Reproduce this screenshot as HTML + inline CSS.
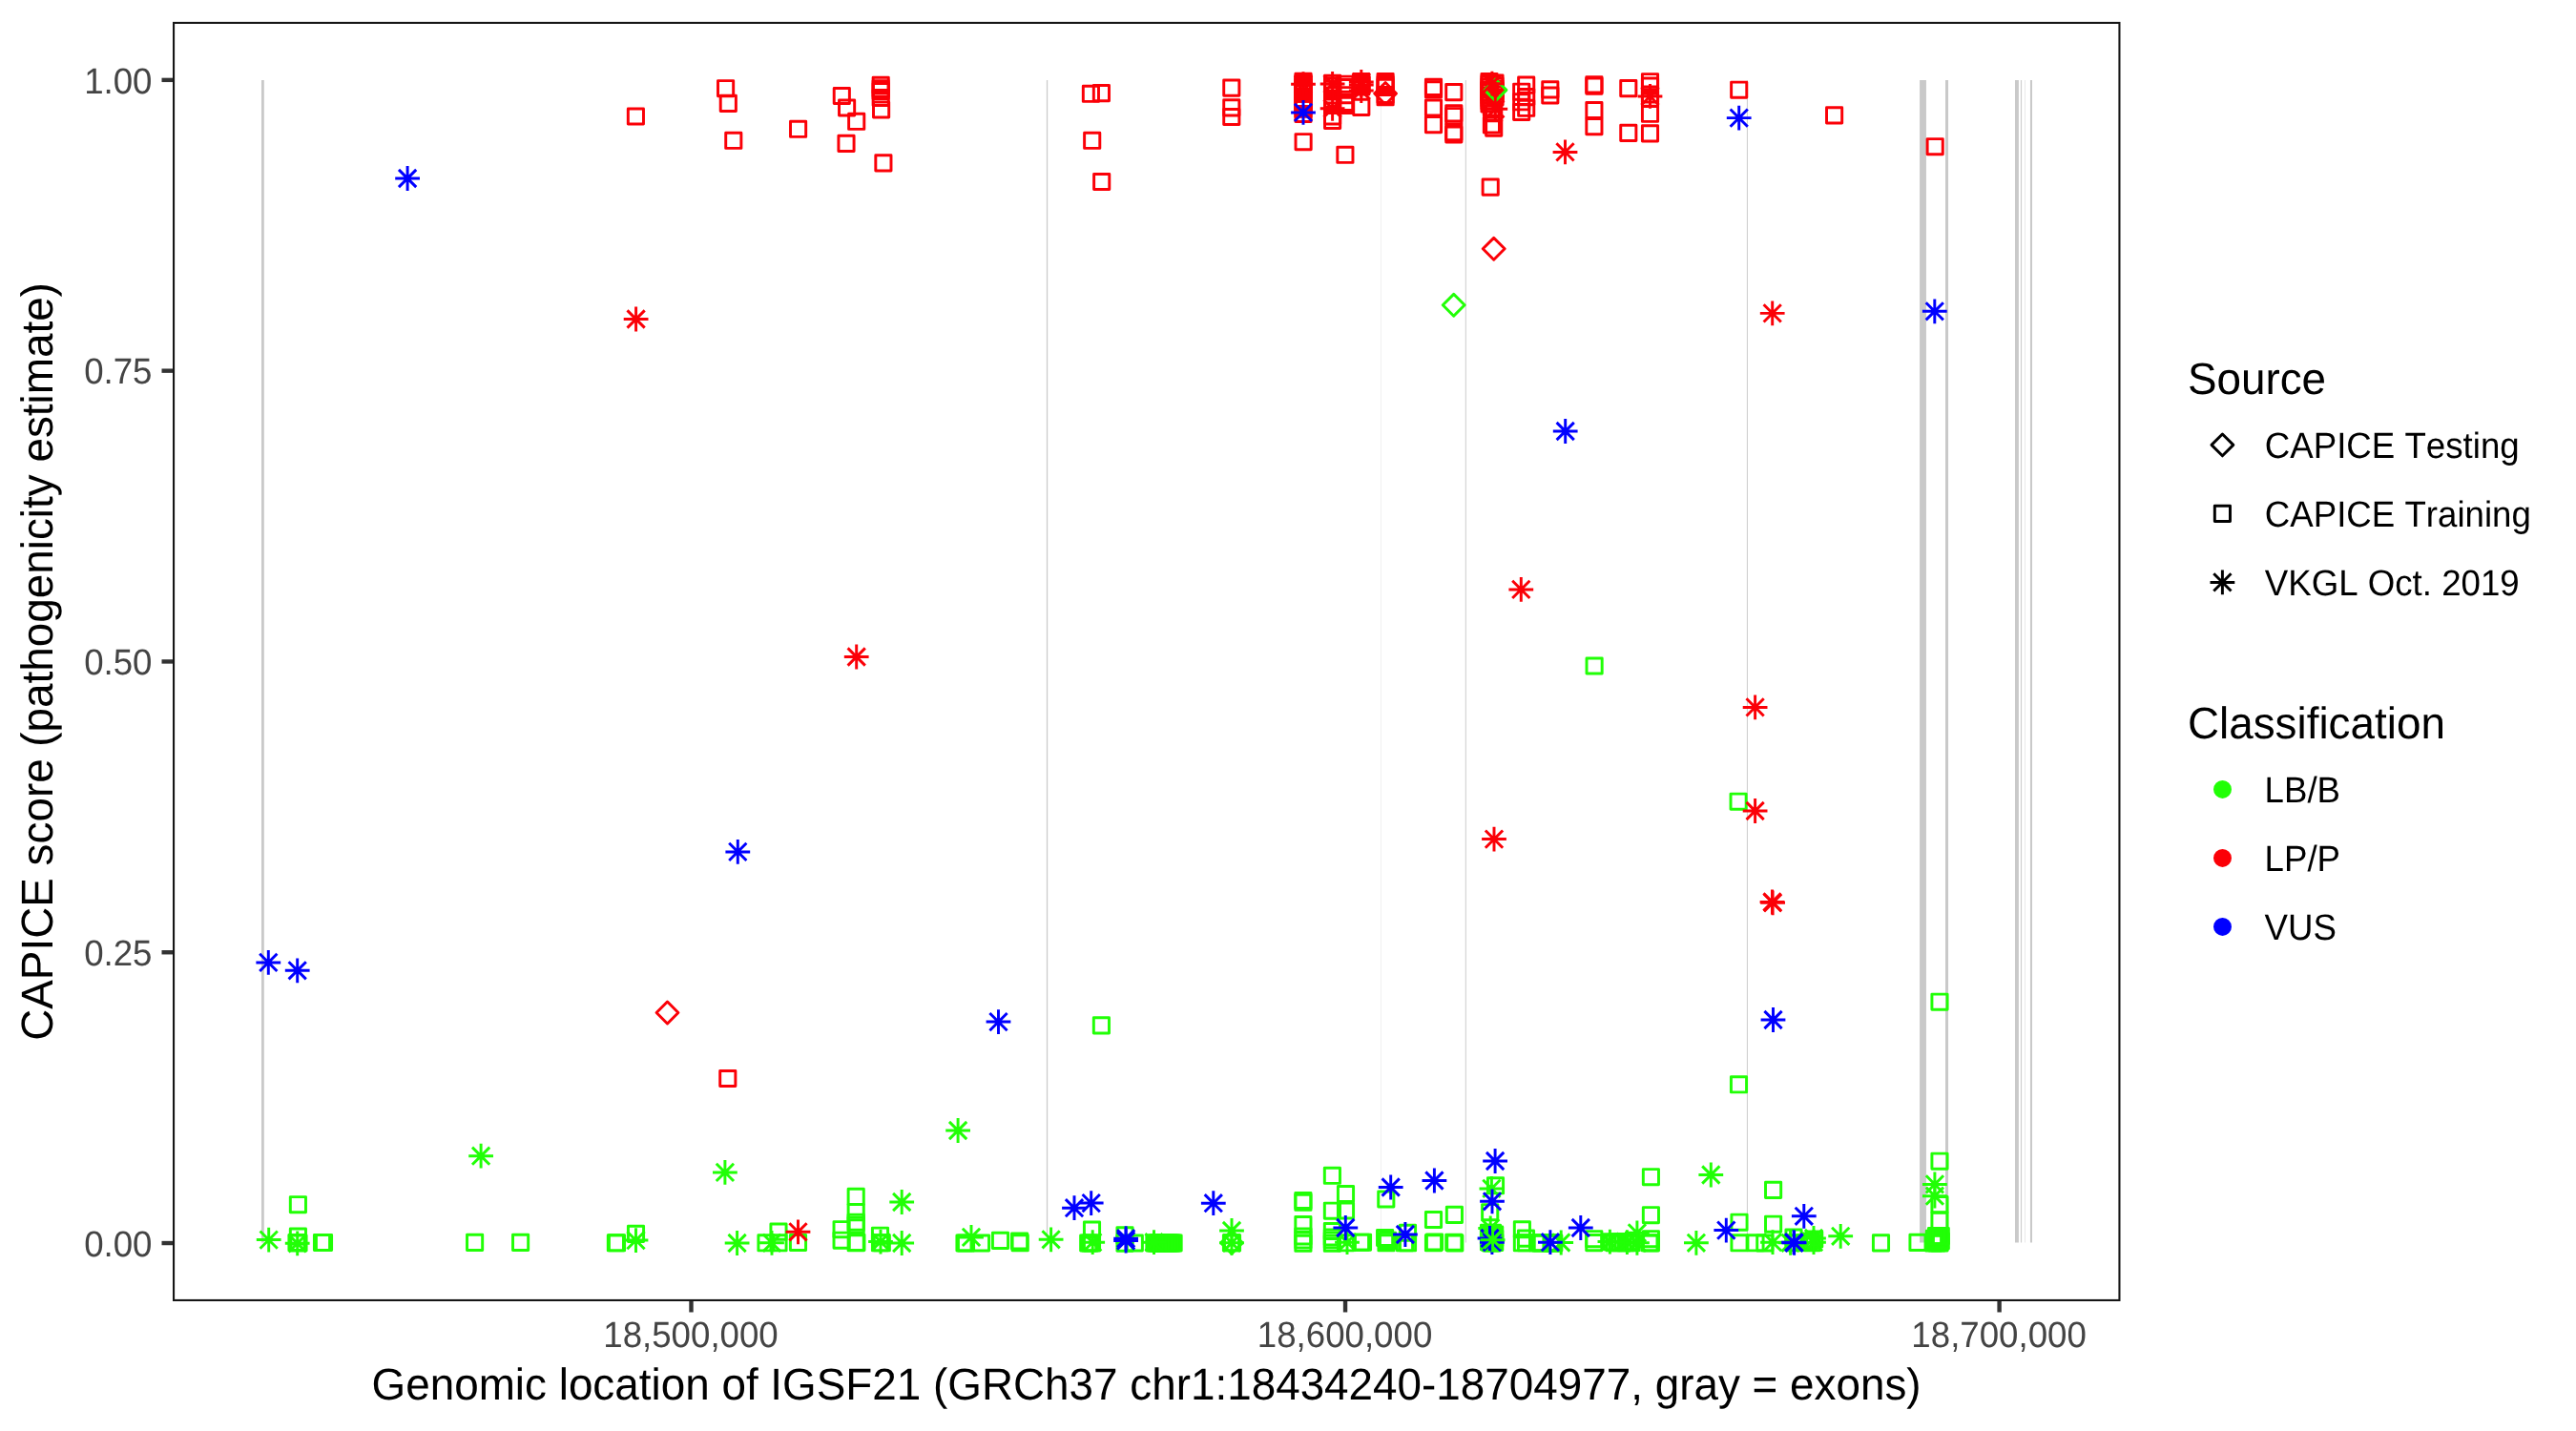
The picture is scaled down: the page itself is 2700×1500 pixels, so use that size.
<!DOCTYPE html>
<html><head><meta charset="utf-8"><title>CAPICE IGSF21</title>
<style>
html,body{margin:0;padding:0;background:#fff;}
body{width:2700px;height:1500px;overflow:hidden;}
svg{display:block;will-change:transform;}
text{font-family:"Liberation Sans",sans-serif;text-rendering:geometricPrecision;font-kerning:none;font-feature-settings:"kern" 0,"liga" 0;}
.t{font-size:36.67px;fill:#444;}
.l{font-size:36.67px;fill:#000;}
.h{font-size:45.83px;fill:#000;}
.p{fill:none;stroke-width:2.95;stroke-linejoin:round;stroke-linecap:butt;}
</style></head><body>
<svg width="2700" height="1500" viewBox="0 0 2700 1500">
<defs>
<path id="s" d="M-8.08-8.08H8.08V8.08H-8.08Z"/>
<path id="d" d="M-11.42 0L0-11.42L11.42 0L0 11.42Z"/>
<path id="a" d="M-9.11-9.11L9.11 9.11M-9.11 9.11L9.11-9.11M-12.89 0H12.89M0-12.89V12.89"/>
</defs>
<rect width="2700" height="1500" fill="#fff"/>

<g>
<rect x="274.00" y="84.0" width="2.80" height="1218.5" fill="#c9c9c9"/>
<rect x="1096.90" y="84.0" width="1.30" height="1218.5" fill="#cbcbcb"/>
<rect x="1447.20" y="84.0" width="0.60" height="1218.5" fill="#e6e6e6"/>
<rect x="1535.80" y="84.0" width="1.00" height="1218.5" fill="#cbcbcb"/>
<rect x="1830.90" y="84.0" width="1.00" height="1218.5" fill="#cbcbcb"/>
<rect x="2012.06" y="84.0" width="6.87" height="1218.5" fill="#c9c9c9"/>
<rect x="2039.00" y="84.0" width="3.05" height="1218.5" fill="#c9c9c9"/>
<rect x="2112.00" y="84.0" width="3.90" height="1218.5" fill="#c9c9c9"/>
<rect x="2117.90" y="84.0" width="1.20" height="1218.5" fill="#cfcfcf"/>
<rect x="2122.00" y="84.0" width="0.90" height="1218.5" fill="#e6e6e6"/>
<rect x="2127.95" y="84.0" width="2.05" height="1218.5" fill="#c9c9c9"/>
</g>
<g class="p">
<use href="#s" x="666.4" y="122.0" stroke="#fb0007"/>
<use href="#s" x="760.6" y="92.7" stroke="#fb0007"/>
<use href="#s" x="763.3" y="108.4" stroke="#fb0007"/>
<use href="#s" x="768.8" y="147.3" stroke="#fb0007"/>
<use href="#s" x="836.6" y="135.3" stroke="#fb0007"/>
<use href="#s" x="882.3" y="100.5" stroke="#fb0007"/>
<use href="#s" x="887.6" y="113.0" stroke="#fb0007"/>
<use href="#s" x="897.7" y="127.3" stroke="#fb0007"/>
<use href="#s" x="887.0" y="150.4" stroke="#fb0007"/>
<use href="#s" x="925.9" y="170.9" stroke="#fb0007"/>
<use href="#s" x="923.2" y="89.4" stroke="#fb0007"/>
<use href="#s" x="923.2" y="92.9" stroke="#fb0007"/>
<use href="#s" x="923.2" y="95.5" stroke="#fb0007"/>
<use href="#s" x="923.2" y="102.5" stroke="#fb0007"/>
<use href="#s" x="923.6" y="115.0" stroke="#fb0007"/>
<use href="#s" x="1143.4" y="98.3" stroke="#fb0007"/>
<use href="#s" x="1154.4" y="97.6" stroke="#fb0007"/>
<use href="#s" x="1144.7" y="147.3" stroke="#fb0007"/>
<use href="#s" x="1154.7" y="190.5" stroke="#fb0007"/>
<use href="#s" x="1290.8" y="92.1" stroke="#fb0007"/>
<use href="#s" x="1290.8" y="112.9" stroke="#fb0007"/>
<use href="#s" x="1290.8" y="122.5" stroke="#fb0007"/>
<use href="#s" x="1366.0" y="85.3" stroke="#fb0007"/>
<use href="#s" x="1366.0" y="87.0" stroke="#fb0007"/>
<use href="#s" x="1366.0" y="89.0" stroke="#fb0007"/>
<use href="#s" x="1366.0" y="91.0" stroke="#fb0007"/>
<use href="#s" x="1366.0" y="93.0" stroke="#fb0007"/>
<use href="#s" x="1366.0" y="95.0" stroke="#fb0007"/>
<use href="#s" x="1366.0" y="97.0" stroke="#fb0007"/>
<use href="#s" x="1366.0" y="98.2" stroke="#fb0007"/>
<use href="#s" x="1366.0" y="105.5" stroke="#fb0007"/>
<use href="#s" x="1366.0" y="108.5" stroke="#fb0007"/>
<use href="#s" x="1366.0" y="111.5" stroke="#fb0007"/>
<use href="#s" x="1366.0" y="114.3" stroke="#fb0007"/>
<use href="#s" x="1366.0" y="119.5" stroke="#fb0007"/>
<use href="#s" x="1366.1" y="148.7" stroke="#fb0007"/>
<use href="#a" x="1366.0" y="88.2" stroke="#fb0007"/>
<use href="#s" x="1396.6" y="87.3" stroke="#fb0007"/>
<use href="#s" x="1396.6" y="90.0" stroke="#fb0007"/>
<use href="#s" x="1396.6" y="93.0" stroke="#fb0007"/>
<use href="#s" x="1396.6" y="96.0" stroke="#fb0007"/>
<use href="#s" x="1396.6" y="100.0" stroke="#fb0007"/>
<use href="#s" x="1396.6" y="104.0" stroke="#fb0007"/>
<use href="#s" x="1396.6" y="107.5" stroke="#fb0007"/>
<use href="#s" x="1396.6" y="110.5" stroke="#fb0007"/>
<use href="#s" x="1396.6" y="121.9" stroke="#fb0007"/>
<use href="#s" x="1396.6" y="126.5" stroke="#fb0007"/>
<use href="#a" x="1396.6" y="88.0" stroke="#fb0007"/>
<use href="#a" x="1396.6" y="113.8" stroke="#fb0007"/>
<use href="#s" x="1409.9" y="88.2" stroke="#fb0007"/>
<use href="#s" x="1409.9" y="91.5" stroke="#fb0007"/>
<use href="#s" x="1409.9" y="99.7" stroke="#fb0007"/>
<use href="#s" x="1409.9" y="107.4" stroke="#fb0007"/>
<use href="#s" x="1409.9" y="110.4" stroke="#fb0007"/>
<use href="#s" x="1409.9" y="162.3" stroke="#fb0007"/>
<use href="#s" x="1426.8" y="85.5" stroke="#fb0007"/>
<use href="#s" x="1426.8" y="88.0" stroke="#fb0007"/>
<use href="#s" x="1426.8" y="90.0" stroke="#fb0007"/>
<use href="#s" x="1426.8" y="91.0" stroke="#fb0007"/>
<use href="#s" x="1426.8" y="112.4" stroke="#fb0007"/>
<use href="#a" x="1426.8" y="86.0" stroke="#fb0007"/>
<use href="#a" x="1426.8" y="89.0" stroke="#fb0007"/>
<use href="#a" x="1426.8" y="95.0" stroke="#fb0007"/>
<use href="#s" x="1452.1" y="85.5" stroke="#fb0007"/>
<use href="#s" x="1452.1" y="88.5" stroke="#fb0007"/>
<use href="#s" x="1452.1" y="91.4" stroke="#fb0007"/>
<use href="#s" x="1452.1" y="99.5" stroke="#fb0007"/>
<use href="#s" x="1452.1" y="101.8" stroke="#fb0007"/>
<use href="#d" x="1452.1" y="98.0" stroke="#fb0007"/>
<use href="#s" x="1502.5" y="91.4" stroke="#fb0007"/>
<use href="#s" x="1502.5" y="93.9" stroke="#fb0007"/>
<use href="#s" x="1502.5" y="113.0" stroke="#fb0007"/>
<use href="#s" x="1502.5" y="130.6" stroke="#fb0007"/>
<use href="#s" x="1523.8" y="96.6" stroke="#fb0007"/>
<use href="#s" x="1523.8" y="118.8" stroke="#fb0007"/>
<use href="#s" x="1523.8" y="121.7" stroke="#fb0007"/>
<use href="#s" x="1523.8" y="138.7" stroke="#fb0007"/>
<use href="#s" x="1523.8" y="141.0" stroke="#fb0007"/>
<use href="#s" x="1567.0" y="87.0" stroke="#fb0007"/>
<use href="#s" x="1567.0" y="90.0" stroke="#fb0007"/>
<use href="#s" x="1567.0" y="93.0" stroke="#fb0007"/>
<use href="#s" x="1567.0" y="96.0" stroke="#fb0007"/>
<use href="#s" x="1567.0" y="99.0" stroke="#fb0007"/>
<use href="#s" x="1567.0" y="102.0" stroke="#fb0007"/>
<use href="#s" x="1561.0" y="85.5" stroke="#fb0007"/>
<use href="#s" x="1561.0" y="88.0" stroke="#fb0007"/>
<use href="#s" x="1561.0" y="91.0" stroke="#fb0007"/>
<use href="#s" x="1561.0" y="94.0" stroke="#fb0007"/>
<use href="#s" x="1561.0" y="97.0" stroke="#fb0007"/>
<use href="#s" x="1561.0" y="100.0" stroke="#fb0007"/>
<use href="#s" x="1561.0" y="103.0" stroke="#fb0007"/>
<use href="#s" x="1561.0" y="106.0" stroke="#fb0007"/>
<use href="#s" x="1561.0" y="109.0" stroke="#fb0007"/>
<use href="#s" x="1563.4" y="113.0" stroke="#fb0007"/>
<use href="#s" x="1563.4" y="131.0" stroke="#fb0007"/>
<use href="#s" x="1565.7" y="118.7" stroke="#fb0007"/>
<use href="#s" x="1565.7" y="134.1" stroke="#fb0007"/>
<use href="#d" x="1567.5" y="94.4" stroke="#21ff06"/>
<use href="#a" x="1563.9" y="87.7" stroke="#fb0007"/>
<use href="#a" x="1567.3" y="114.3" stroke="#fb0007"/>
<use href="#s" x="1562.2" y="196.1" stroke="#fb0007"/>
<use href="#s" x="1594.7" y="96.2" stroke="#fb0007"/>
<use href="#s" x="1594.7" y="106.8" stroke="#fb0007"/>
<use href="#s" x="1594.7" y="117.5" stroke="#fb0007"/>
<use href="#s" x="1599.7" y="89.1" stroke="#fb0007"/>
<use href="#s" x="1599.7" y="101.6" stroke="#fb0007"/>
<use href="#s" x="1599.7" y="113.3" stroke="#fb0007"/>
<use href="#s" x="1624.8" y="93.9" stroke="#fb0007"/>
<use href="#s" x="1624.8" y="100.0" stroke="#fb0007"/>
<use href="#a" x="1640.5" y="159.4" stroke="#fb0007"/>
<use href="#s" x="1670.9" y="88.8" stroke="#fb0007"/>
<use href="#s" x="1670.9" y="90.2" stroke="#fb0007"/>
<use href="#s" x="1670.9" y="115.5" stroke="#fb0007"/>
<use href="#s" x="1670.9" y="132.6" stroke="#fb0007"/>
<use href="#s" x="1706.8" y="92.6" stroke="#fb0007"/>
<use href="#s" x="1706.8" y="139.4" stroke="#fb0007"/>
<use href="#s" x="1729.5" y="85.7" stroke="#fb0007"/>
<use href="#s" x="1729.5" y="90.1" stroke="#fb0007"/>
<use href="#s" x="1729.5" y="99.0" stroke="#fb0007"/>
<use href="#s" x="1729.5" y="103.5" stroke="#fb0007"/>
<use href="#s" x="1729.5" y="119.3" stroke="#fb0007"/>
<use href="#s" x="1729.5" y="139.9" stroke="#fb0007"/>
<use href="#a" x="1729.5" y="100.9" stroke="#fb0007"/>
<use href="#s" x="1822.7" y="94.2" stroke="#fb0007"/>
<use href="#s" x="1922.6" y="120.9" stroke="#fb0007"/>
<use href="#s" x="2028.2" y="153.7" stroke="#fb0007"/>
<use href="#a" x="1366.0" y="117.9" stroke="#0000ff"/>
<use href="#a" x="1822.7" y="123.6" stroke="#0000ff"/>
<use href="#a" x="427.1" y="187.0" stroke="#0000ff"/>
<use href="#a" x="666.6" y="334.5" stroke="#fb0007"/>
<use href="#a" x="897.7" y="688.5" stroke="#fb0007"/>
<use href="#a" x="773.3" y="892.9" stroke="#0000ff"/>
<use href="#a" x="281.3" y="1008.9" stroke="#0000ff"/>
<use href="#a" x="311.7" y="1017.3" stroke="#0000ff"/>
<use href="#d" x="699.5" y="1061.5" stroke="#fb0007"/>
<use href="#s" x="762.8" y="1130.5" stroke="#fb0007"/>
<use href="#a" x="1046.5" y="1071.1" stroke="#0000ff"/>
<use href="#a" x="1004.1" y="1185.0" stroke="#21ff06"/>
<use href="#a" x="504.1" y="1211.7" stroke="#21ff06"/>
<use href="#d" x="1565.7" y="260.8" stroke="#fb0007"/>
<use href="#d" x="1523.7" y="319.8" stroke="#21ff06"/>
<use href="#a" x="1640.7" y="452.0" stroke="#0000ff"/>
<use href="#a" x="1594.3" y="617.9" stroke="#fb0007"/>
<use href="#s" x="1671.1" y="698.0" stroke="#21ff06"/>
<use href="#a" x="1839.6" y="741.4" stroke="#fb0007"/>
<use href="#s" x="1822.1" y="840.2" stroke="#21ff06"/>
<use href="#a" x="1839.6" y="850.0" stroke="#fb0007"/>
<use href="#a" x="1566.0" y="879.6" stroke="#fb0007"/>
<use href="#a" x="1857.5" y="945.5" stroke="#fb0007"/>
<use href="#a" x="1858.1" y="946.3" stroke="#fb0007"/>
<use href="#a" x="1858.5" y="1069.0" stroke="#0000ff"/>
<use href="#s" x="1154.4" y="1074.9" stroke="#21ff06"/>
<use href="#s" x="1822.5" y="1136.8" stroke="#21ff06"/>
<use href="#s" x="2033.0" y="1050.2" stroke="#21ff06"/>
<use href="#s" x="2033.0" y="1217.2" stroke="#21ff06"/>
<use href="#a" x="1857.7" y="328.4" stroke="#fb0007"/>
<use href="#a" x="2027.8" y="326.3" stroke="#0000ff"/>
<use href="#s" x="312.4" y="1262.7" stroke="#21ff06"/>
<use href="#s" x="312.4" y="1296.0" stroke="#21ff06"/>
<use href="#s" x="311.0" y="1302.5" stroke="#21ff06"/>
<use href="#s" x="313.0" y="1303.0" stroke="#21ff06"/>
<use href="#s" x="337.5" y="1302.5" stroke="#21ff06"/>
<use href="#s" x="339.5" y="1302.5" stroke="#21ff06"/>
<use href="#s" x="497.6" y="1302.4" stroke="#21ff06"/>
<use href="#s" x="545.6" y="1302.4" stroke="#21ff06"/>
<use href="#s" x="645.4" y="1302.8" stroke="#21ff06"/>
<use href="#s" x="646.5" y="1302.8" stroke="#21ff06"/>
<use href="#s" x="666.5" y="1293.4" stroke="#21ff06"/>
<use href="#s" x="803.0" y="1302.8" stroke="#21ff06"/>
<use href="#s" x="816.0" y="1302.8" stroke="#21ff06"/>
<use href="#s" x="816.0" y="1291.1" stroke="#21ff06"/>
<use href="#s" x="836.5" y="1302.5" stroke="#21ff06"/>
<use href="#s" x="882.1" y="1288.7" stroke="#21ff06"/>
<use href="#s" x="882.1" y="1300.2" stroke="#21ff06"/>
<use href="#s" x="897.2" y="1254.3" stroke="#21ff06"/>
<use href="#s" x="897.2" y="1270.7" stroke="#21ff06"/>
<use href="#s" x="897.2" y="1281.2" stroke="#21ff06"/>
<use href="#s" x="897.2" y="1284.1" stroke="#21ff06"/>
<use href="#s" x="897.2" y="1302.8" stroke="#21ff06"/>
<use href="#s" x="897.9" y="1302.3" stroke="#21ff06"/>
<use href="#s" x="922.5" y="1295.2" stroke="#21ff06"/>
<use href="#s" x="922.5" y="1302.8" stroke="#21ff06"/>
<use href="#s" x="924.3" y="1302.8" stroke="#21ff06"/>
<use href="#s" x="1011.0" y="1303.0" stroke="#21ff06"/>
<use href="#s" x="1012.5" y="1303.0" stroke="#21ff06"/>
<use href="#s" x="1028.5" y="1303.0" stroke="#21ff06"/>
<use href="#s" x="1048.5" y="1300.4" stroke="#21ff06"/>
<use href="#s" x="1068.6" y="1301.0" stroke="#21ff06"/>
<use href="#s" x="1069.2" y="1302.8" stroke="#21ff06"/>
<use href="#s" x="1144.5" y="1289.0" stroke="#21ff06"/>
<use href="#s" x="1140.7" y="1303.0" stroke="#21ff06"/>
<use href="#s" x="1142.5" y="1303.0" stroke="#21ff06"/>
<use href="#s" x="1144.5" y="1303.0" stroke="#21ff06"/>
<use href="#s" x="1179.0" y="1294.9" stroke="#21ff06"/>
<use href="#s" x="1179.0" y="1303.1" stroke="#21ff06"/>
<use href="#s" x="1189.3" y="1303.0" stroke="#21ff06"/>
<use href="#s" x="1209.9" y="1303.0" stroke="#21ff06"/>
<use href="#s" x="1211.3" y="1303.0" stroke="#21ff06"/>
<use href="#s" x="1212.8" y="1303.0" stroke="#21ff06"/>
<use href="#s" x="1214.2" y="1303.0" stroke="#21ff06"/>
<use href="#s" x="1215.7" y="1303.0" stroke="#21ff06"/>
<use href="#s" x="1217.1" y="1303.0" stroke="#21ff06"/>
<use href="#s" x="1218.5" y="1303.0" stroke="#21ff06"/>
<use href="#s" x="1220.0" y="1303.0" stroke="#21ff06"/>
<use href="#s" x="1221.4" y="1303.0" stroke="#21ff06"/>
<use href="#s" x="1222.9" y="1303.0" stroke="#21ff06"/>
<use href="#s" x="1224.3" y="1303.0" stroke="#21ff06"/>
<use href="#s" x="1225.7" y="1303.0" stroke="#21ff06"/>
<use href="#s" x="1227.2" y="1303.0" stroke="#21ff06"/>
<use href="#s" x="1228.6" y="1303.0" stroke="#21ff06"/>
<use href="#s" x="1230.1" y="1303.0" stroke="#21ff06"/>
<use href="#s" x="1290.5" y="1302.8" stroke="#21ff06"/>
<use href="#s" x="1291.5" y="1302.8" stroke="#21ff06"/>
<use href="#d" x="1291.0" y="1302.8" stroke="#21ff06"/>
<use href="#s" x="1365.9" y="1258.5" stroke="#21ff06"/>
<use href="#s" x="1365.9" y="1260.3" stroke="#21ff06"/>
<use href="#s" x="1365.9" y="1283.5" stroke="#21ff06"/>
<use href="#s" x="1365.9" y="1296.0" stroke="#21ff06"/>
<use href="#s" x="1365.9" y="1300.0" stroke="#21ff06"/>
<use href="#s" x="1365.9" y="1303.3" stroke="#21ff06"/>
<use href="#s" x="1396.4" y="1232.3" stroke="#21ff06"/>
<use href="#s" x="1396.4" y="1269.2" stroke="#21ff06"/>
<use href="#s" x="1396.4" y="1290.5" stroke="#21ff06"/>
<use href="#s" x="1396.4" y="1297.0" stroke="#21ff06"/>
<use href="#s" x="1396.4" y="1300.0" stroke="#21ff06"/>
<use href="#s" x="1396.4" y="1303.3" stroke="#21ff06"/>
<use href="#s" x="1410.5" y="1251.5" stroke="#21ff06"/>
<use href="#s" x="1410.5" y="1269.0" stroke="#21ff06"/>
<use href="#s" x="1410.5" y="1302.8" stroke="#21ff06"/>
<use href="#s" x="1426.5" y="1302.2" stroke="#21ff06"/>
<use href="#s" x="1428.5" y="1302.2" stroke="#21ff06"/>
<use href="#s" x="1452.8" y="1257.0" stroke="#21ff06"/>
<use href="#s" x="1451.6" y="1297.5" stroke="#21ff06"/>
<use href="#s" x="1454.5" y="1300.4" stroke="#21ff06"/>
<use href="#s" x="1453.0" y="1302.8" stroke="#21ff06"/>
<use href="#s" x="1475.5" y="1292.3" stroke="#21ff06"/>
<use href="#s" x="1475.5" y="1302.8" stroke="#21ff06"/>
<use href="#s" x="1472.5" y="1302.8" stroke="#21ff06"/>
<use href="#s" x="1502.5" y="1278.5" stroke="#21ff06"/>
<use href="#s" x="1502.5" y="1302.8" stroke="#21ff06"/>
<use href="#s" x="1503.5" y="1302.0" stroke="#21ff06"/>
<use href="#s" x="1524.4" y="1273.4" stroke="#21ff06"/>
<use href="#s" x="1523.8" y="1302.2" stroke="#21ff06"/>
<use href="#s" x="1524.8" y="1303.0" stroke="#21ff06"/>
<use href="#s" x="1567.5" y="1242.8" stroke="#21ff06"/>
<use href="#s" x="1561.7" y="1270.7" stroke="#21ff06"/>
<use href="#s" x="1560.5" y="1292.4" stroke="#21ff06"/>
<use href="#s" x="1560.5" y="1297.0" stroke="#21ff06"/>
<use href="#s" x="1560.5" y="1302.0" stroke="#21ff06"/>
<use href="#s" x="1562.5" y="1294.5" stroke="#21ff06"/>
<use href="#s" x="1562.5" y="1299.0" stroke="#21ff06"/>
<use href="#s" x="1562.5" y="1303.0" stroke="#21ff06"/>
<use href="#s" x="1564.5" y="1292.4" stroke="#21ff06"/>
<use href="#s" x="1564.5" y="1296.0" stroke="#21ff06"/>
<use href="#s" x="1564.5" y="1300.0" stroke="#21ff06"/>
<use href="#s" x="1564.5" y="1303.0" stroke="#21ff06"/>
<use href="#s" x="1566.7" y="1294.0" stroke="#21ff06"/>
<use href="#s" x="1566.7" y="1298.0" stroke="#21ff06"/>
<use href="#s" x="1566.7" y="1302.5" stroke="#21ff06"/>
<use href="#s" x="1595.4" y="1288.8" stroke="#21ff06"/>
<use href="#s" x="1595.4" y="1302.8" stroke="#21ff06"/>
<use href="#s" x="1599.5" y="1298.1" stroke="#21ff06"/>
<use href="#s" x="1599.5" y="1302.8" stroke="#21ff06"/>
<use href="#s" x="1611.7" y="1302.8" stroke="#21ff06"/>
<use href="#s" x="1614.5" y="1303.0" stroke="#21ff06"/>
<use href="#s" x="1616.3" y="1303.0" stroke="#21ff06"/>
<use href="#s" x="1626.0" y="1303.0" stroke="#21ff06"/>
<use href="#s" x="1627.5" y="1303.0" stroke="#21ff06"/>
<use href="#s" x="1628.8" y="1303.0" stroke="#21ff06"/>
<use href="#s" x="1670.8" y="1298.7" stroke="#21ff06"/>
<use href="#s" x="1670.8" y="1302.6" stroke="#21ff06"/>
<use href="#s" x="1689.2" y="1301.8" stroke="#21ff06"/>
<use href="#s" x="1692.0" y="1302.8" stroke="#21ff06"/>
<use href="#s" x="1695.0" y="1301.8" stroke="#21ff06"/>
<use href="#s" x="1698.0" y="1302.8" stroke="#21ff06"/>
<use href="#s" x="1701.0" y="1301.8" stroke="#21ff06"/>
<use href="#s" x="1704.0" y="1302.8" stroke="#21ff06"/>
<use href="#s" x="1707.0" y="1301.8" stroke="#21ff06"/>
<use href="#s" x="1709.7" y="1302.8" stroke="#21ff06"/>
<use href="#s" x="1730.4" y="1233.7" stroke="#21ff06"/>
<use href="#s" x="1730.4" y="1273.7" stroke="#21ff06"/>
<use href="#s" x="1730.4" y="1298.7" stroke="#21ff06"/>
<use href="#s" x="1730.4" y="1303.0" stroke="#21ff06"/>
<use href="#s" x="1728.9" y="1302.8" stroke="#21ff06"/>
<use href="#s" x="1823.0" y="1281.2" stroke="#21ff06"/>
<use href="#s" x="1823.0" y="1302.8" stroke="#21ff06"/>
<use href="#s" x="1840.0" y="1302.8" stroke="#21ff06"/>
<use href="#s" x="1849.8" y="1303.0" stroke="#21ff06"/>
<use href="#s" x="1858.6" y="1247.4" stroke="#21ff06"/>
<use href="#s" x="1858.6" y="1283.2" stroke="#21ff06"/>
<use href="#s" x="1880.0" y="1297.0" stroke="#21ff06"/>
<use href="#s" x="1880.0" y="1302.8" stroke="#21ff06"/>
<use href="#s" x="1896.4" y="1301.0" stroke="#21ff06"/>
<use href="#s" x="1899.0" y="1302.8" stroke="#21ff06"/>
<use href="#s" x="1901.7" y="1299.0" stroke="#21ff06"/>
<use href="#s" x="1971.5" y="1302.9" stroke="#21ff06"/>
<use href="#s" x="2010.0" y="1302.4" stroke="#21ff06"/>
<use href="#s" x="2033.0" y="1262.6" stroke="#21ff06"/>
<use href="#s" x="2033.0" y="1279.4" stroke="#21ff06"/>
<use href="#s" x="2033.0" y="1296.2" stroke="#21ff06"/>
<use href="#s" x="2033.0" y="1299.0" stroke="#21ff06"/>
<use href="#s" x="2033.0" y="1302.9" stroke="#21ff06"/>
<use href="#s" x="2026.5" y="1303.0" stroke="#21ff06"/>
<use href="#s" x="2027.4" y="1298.4" stroke="#21ff06"/>
<use href="#s" x="2030.0" y="1303.0" stroke="#21ff06"/>
<use href="#s" x="2034.3" y="1301.0" stroke="#21ff06"/>
<use href="#s" x="2031.0" y="1297.0" stroke="#21ff06"/>
<use href="#s" x="2028.5" y="1300.5" stroke="#21ff06"/>
<use href="#s" x="2034.3" y="1295.6" stroke="#21ff06"/>
<use href="#s" x="2029.5" y="1295.6" stroke="#21ff06"/>
<use href="#a" x="281.7" y="1299.6" stroke="#21ff06"/>
<use href="#a" x="311.7" y="1303.3" stroke="#21ff06"/>
<use href="#a" x="666.5" y="1300.1" stroke="#21ff06"/>
<use href="#a" x="759.9" y="1228.9" stroke="#21ff06"/>
<use href="#a" x="772.6" y="1303.0" stroke="#21ff06"/>
<use href="#a" x="809.0" y="1302.8" stroke="#21ff06"/>
<use href="#a" x="836.5" y="1291.3" stroke="#fb0007"/>
<use href="#a" x="923.0" y="1301.6" stroke="#21ff06"/>
<use href="#a" x="945.2" y="1260.0" stroke="#21ff06"/>
<use href="#a" x="945.2" y="1303.0" stroke="#21ff06"/>
<use href="#a" x="1018.0" y="1296.9" stroke="#21ff06"/>
<use href="#a" x="1101.6" y="1299.3" stroke="#21ff06"/>
<use href="#a" x="1145.2" y="1302.2" stroke="#21ff06"/>
<use href="#a" x="1209.5" y="1302.2" stroke="#21ff06"/>
<use href="#a" x="1291.0" y="1290.0" stroke="#21ff06"/>
<use href="#a" x="1291.0" y="1302.8" stroke="#21ff06"/>
<use href="#a" x="1412.0" y="1302.2" stroke="#21ff06"/>
<use href="#a" x="1563.4" y="1245.9" stroke="#21ff06"/>
<use href="#a" x="1562.2" y="1287.4" stroke="#21ff06"/>
<use href="#a" x="1636.2" y="1302.5" stroke="#21ff06"/>
<use href="#a" x="1687.4" y="1301.6" stroke="#21ff06"/>
<use href="#a" x="1705.4" y="1302.2" stroke="#21ff06"/>
<use href="#a" x="1715.9" y="1292.3" stroke="#21ff06"/>
<use href="#a" x="1715.9" y="1302.8" stroke="#21ff06"/>
<use href="#a" x="1793.3" y="1231.5" stroke="#21ff06"/>
<use href="#a" x="1777.9" y="1302.8" stroke="#21ff06"/>
<use href="#a" x="1858.0" y="1302.2" stroke="#21ff06"/>
<use href="#a" x="1876.6" y="1302.8" stroke="#21ff06"/>
<use href="#a" x="1901.0" y="1302.2" stroke="#21ff06"/>
<use href="#a" x="1901.0" y="1298.0" stroke="#21ff06"/>
<use href="#a" x="1929.2" y="1295.8" stroke="#21ff06"/>
<use href="#a" x="2027.9" y="1241.4" stroke="#21ff06"/>
<use href="#a" x="2027.9" y="1253.7" stroke="#21ff06"/>
<use href="#a" x="1126.0" y="1266.2" stroke="#0000ff"/>
<use href="#a" x="1143.7" y="1261.1" stroke="#0000ff"/>
<use href="#a" x="1180.1" y="1298.2" stroke="#0000ff"/>
<use href="#a" x="1180.1" y="1300.5" stroke="#0000ff"/>
<use href="#a" x="1271.8" y="1261.2" stroke="#0000ff"/>
<use href="#a" x="1410.3" y="1287.0" stroke="#0000ff"/>
<use href="#a" x="1457.7" y="1244.5" stroke="#0000ff"/>
<use href="#a" x="1472.9" y="1294.0" stroke="#0000ff"/>
<use href="#a" x="1503.4" y="1237.5" stroke="#0000ff"/>
<use href="#a" x="1567.1" y="1217.0" stroke="#0000ff"/>
<use href="#a" x="1564.0" y="1259.3" stroke="#0000ff"/>
<use href="#a" x="1563.9" y="1302.2" stroke="#0000ff"/>
<use href="#a" x="1561.5" y="1298.0" stroke="#0000ff"/>
<use href="#a" x="1624.9" y="1302.2" stroke="#0000ff"/>
<use href="#a" x="1656.8" y="1287.0" stroke="#0000ff"/>
<use href="#a" x="1809.3" y="1289.6" stroke="#0000ff"/>
<use href="#a" x="1890.8" y="1274.8" stroke="#0000ff"/>
<use href="#a" x="1880.1" y="1302.2" stroke="#0000ff"/>
<use href="#a" x="1880.6" y="1302.8" stroke="#0000ff"/>
<use href="#a" x="1564.6" y="1299.7" stroke="#21ff06"/>
</g>
<rect x="182.05" y="23.95" width="2039.4" height="1339.0" fill="none" stroke="#161616" stroke-width="2.1"/>
<g stroke="#333" stroke-width="4.4">
<line x1="169.5" x2="181.0" y1="83.86" y2="83.86"/>
<line x1="169.5" x2="181.0" y1="388.66" y2="388.66"/>
<line x1="169.5" x2="181.0" y1="693.45" y2="693.45"/>
<line x1="169.5" x2="181.0" y1="998.25" y2="998.25"/>
<line x1="169.5" x2="181.0" y1="1303.04" y2="1303.04"/>
<line x1="724.5" x2="724.5" y1="1364.0" y2="1375.5"/>
<line x1="1410.05" x2="1410.05" y1="1364.0" y2="1375.5"/>
<line x1="2095.6" x2="2095.6" y1="1364.0" y2="1375.5"/>
</g>
<text class="t" text-anchor="end" transform="translate(159.5 97.56) scale(1 1.04)">1.00</text>
<text class="t" text-anchor="end" transform="translate(159.5 402.36) scale(1 1.04)">0.75</text>
<text class="t" text-anchor="end" transform="translate(159.5 707.15) scale(1 1.04)">0.50</text>
<text class="t" text-anchor="end" transform="translate(159.5 1011.95) scale(1 1.04)">0.25</text>
<text class="t" text-anchor="end" transform="translate(159.5 1316.74) scale(1 1.04)">0.00</text>
<text class="t" text-anchor="middle" transform="translate(724.0 1412.2) scale(1 1.04)">18,500,000</text>
<text class="t" text-anchor="middle" transform="translate(1409.55 1412.2) scale(1 1.04)">18,600,000</text>
<text class="t" text-anchor="middle" transform="translate(2095.1 1412.2) scale(1 1.04)">18,700,000</text>
<text class="h" text-anchor="middle" transform="translate(1201.6 1467.0) scale(1 1.02)">Genomic location of IGSF21 (GRCh37 chr1:18434240-18704977, gray = exons)</text>
<text class="h" text-anchor="middle" transform="translate(55.0 693.45) rotate(-90) scale(1 1.02)">CAPICE score (pathogenicity estimate)</text>
<text class="h" transform="translate(2292.9 412.8) scale(1 1.02)">Source</text>
<g class="p" stroke="#000"><use href="#d" x="2329.4" y="466.4"/><use href="#s" x="2329.4" y="538.4"/><use href="#a" x="2329.4" y="610.4"/></g>
<text class="l" transform="translate(2373.8 479.7) scale(1 1.04)">CAPICE Testing</text>
<text class="l" transform="translate(2373.8 551.7) scale(1 1.04)">CAPICE Training</text>
<text class="l" transform="translate(2373.8 623.7) scale(1 1.04)">VKGL Oct. 2019</text>
<text class="h" transform="translate(2292.9 773.8) scale(1 1.02)">Classification</text>
<circle cx="2329.5" cy="827.4" r="9.5" fill="#21ff06"/><circle cx="2329.5" cy="899.4" r="9.5" fill="#fb0007"/><circle cx="2329.5" cy="971.4" r="9.5" fill="#0000ff"/>
<text class="l" transform="translate(2373.6 840.7) scale(1 1.04)">LB/B</text>
<text class="l" transform="translate(2373.6 912.7) scale(1 1.04)">LP/P</text>
<text class="l" transform="translate(2373.6 984.7) scale(1 1.04)">VUS</text>
</svg></body></html>
